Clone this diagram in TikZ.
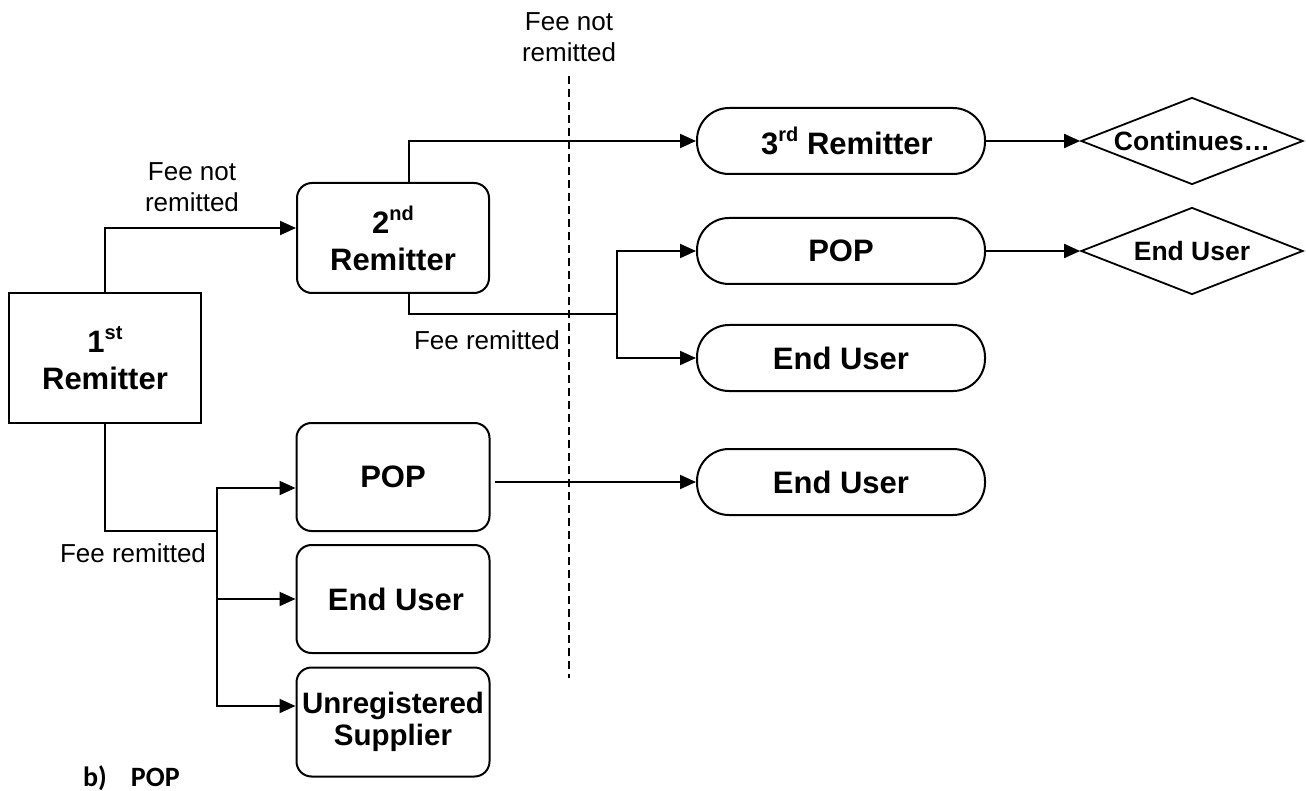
\documentclass[tikz,border=0pt]{standalone}
\usepackage{fontspec}
\setmainfont{Liberation Sans}
\newfontfamily\calfont{Carlito}
\usetikzlibrary{shapes.geometric,arrows.meta,calc}
\tikzset{
  base/.style={draw, line width=2pt, align=center, inner sep=0pt, font=\fontsize{31}{37}\selectfont\bfseries},
  sqbox/.style={base, rectangle, minimum width=192pt, minimum height=130pt},
  rbox/.style={base, rectangle, rounded corners=15pt, minimum width=193pt, minimum height=108pt},
  stad/.style={base, rectangle, rounded corners=32pt, minimum width=288pt, minimum height=66pt},
  dia/.style={draw, line width=1.8pt, diamond, aspect=2.55, inner sep=0pt, minimum width=222pt, minimum height=87pt, font=\fontsize{26.5}{30}\selectfont\bfseries},
  lbl/.style={align=center, inner sep=0pt, font=\fontsize{26}{31}\selectfont},
  conn/.style={line width=2pt},
  arr/.style={conn, -{Triangle[length=16pt,width=14pt]}}
}
\newcommand{\sups}[1]{\raisebox{0.42em}{\fontsize{20}{20}\selectfont #1}}
\begin{document}
\begin{tikzpicture}[x=1pt,y=-1pt]
\useasboundingbox (0,0) rectangle (1306,791);
% nodes
\node[sqbox] (r1) at (105,358) {1\sups{st}\\Remitter};
\node[rbox, minimum width=192pt, minimum height=110pt] (r2) at (393,238) {2\sups{nd}\\Remitter};
\node[stad] (r3) at (841,141) {\hspace*{12pt}3\sups{rd} Remitter};
\node[stad] (pop2) at (841,251) {POP};
\node[stad] (eu2) at (841,358) {End User};
\node[stad] (eu3) at (841,482) {End User};
\node[dia] (cont) at (1192,141) {Continues\ldots};
\node[dia] (eud) at (1192,251) {End User};
\node[rbox] (pop1) at (393,477) {POP};
\node[rbox] (eu1) at (393,599) {\hspace*{6pt}End User};
\node[rbox, minimum height=109pt, font=\fontsize{29.5}{35}\selectfont\bfseries] (us1) at (393,722) {Unregistered\\[-3pt]Supplier};
% coordinates
\coordinate (b2) at (617,314);
\coordinate (b1) at (217,531);
\coordinate (dtop) at (569,76);
\coordinate (dbot) at (569,678);
% dashed divider
\draw[line width=1.6pt, dash pattern=on 8pt off 5pt] (dtop) -- (dbot);
% connectors
\draw[arr] (r1.north) |- ([yshift=10pt]r2.west);
\draw[arr] ([xshift=16pt]r2.north) |- (r3.west);
\draw[conn] ([xshift=16pt]r2.south) |- (b2);
\draw[arr] (b2) |- (pop2.west);
\draw[arr] (b2) |- (eu2.west);
\draw[arr] (r3.east) -- (cont.west);
\draw[arr] (pop2.east) -- (eud.west);
\draw[conn] (r1.south) |- (b1);
\draw[arr] (b1) |- ([yshift=-11pt]pop1.west);
\draw[arr] (b1) |- (eu1.west);
\draw[arr] (b1) |- ([yshift=16pt]us1.west);
\draw[arr] ([xshift=4pt]pop1.east |- eu3.west) -- (eu3.west);
% labels
\node[lbl] (l1) at (192,187) {Fee not\\remitted};
\node[lbl] (l2) at (487,340) {Fee remitted};
\node[lbl] (l3) at (569,37) {Fee not\\remitted};
\node[lbl] (l4) at (133,553) {Fee remitted};
\node[anchor=base west, inner sep=0pt, font=\calfont\bfseries\fontsize{28}{32}\selectfont] (cap) at (83,786) {b)\hspace{24pt}POP};
\end{tikzpicture}
\end{document}
